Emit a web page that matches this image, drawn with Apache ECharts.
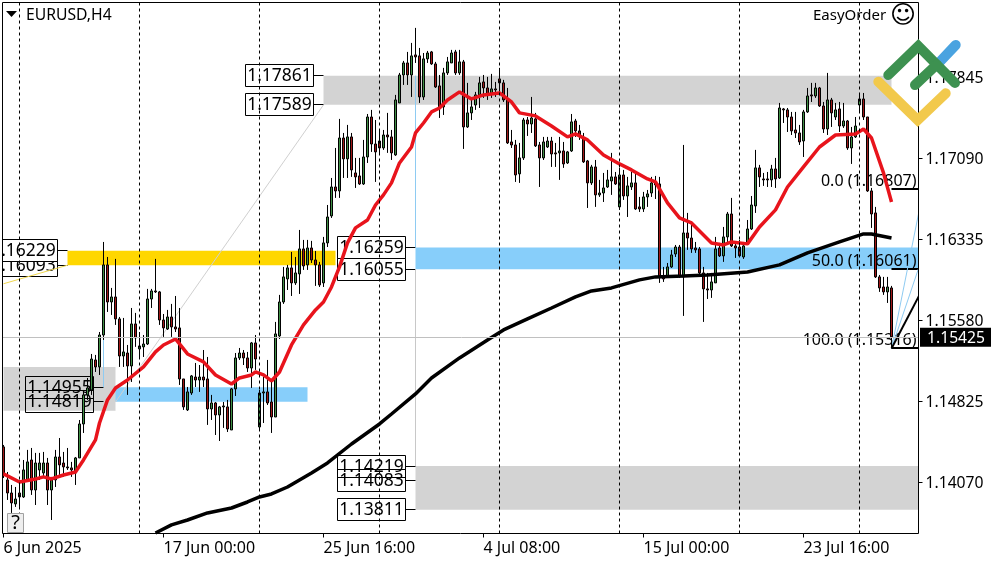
<!DOCTYPE html>
<html>
<head>
<meta charset="utf-8">
<style>
	html, body { margin: 0; padding: 0; background: #fff; }
	#chart { width: 1000px; height: 562px; }
</style>
<script src="https://cdn.jsdelivr.net/npm/echarts@6/dist/echarts.min.js"></script>
</head>
<body>
<div id="chart"></div>
<script>
const tickLabels = ["6 Jun 2025", "17 Jun 00:00", "25 Jun 16:00", "4 Jul 08:00", "15 Jul 00:00", "23 Jul 16:00"];
const priceTicks = [1.1407, 1.14825, 1.1558, 1.16335, 1.1709, 1.17845];
const separators = [4, 34, 64, 94, 124, 154, 184, 214];
const lastPrice = 1.15425;

const opens = [
	1.14398,1.1409,1.13968,1.13866,1.13968,1.13931,1.1409,1.14276,1.13996,1.14183,
	1.14155,1.14248,1.13996,1.1409,1.14304,1.14248,1.14211,1.14202,1.14155,1.14295,
	1.14612,1.14883,1.14929,1.15209,1.15144,1.15442,1.16096,1.1575,1.15797,1.15592,
	1.15246,1.15274,1.15153,1.15545,1.15312,1.15331,1.15358,1.15778,1.15853,1.15844,
	1.15582,1.15498,1.1561,1.15517,1.15508,1.15032,1.14743,1.14901,1.1505,1.15022,
	1.1505,1.15032,1.14752,1.14808,1.14696,1.14771,1.14771,1.14556,1.14939,1.15228,
	1.15274,1.15228,1.15134,1.15368,1.14584,1.14901,1.14911,1.14817,1.14677,1.15433,
	1.1575,1.15965,1.16068,1.15928,1.16012,1.16245,1.16096,1.16254,1.16142,1.16096,
	1.15928,1.16301,1.16553,1.16823,1.16786,1.1728,1.17085,1.1729,1.16954,1.16926,
	1.16851,1.17103,1.17476,1.17224,1.17252,1.17187,1.17308,1.1729,1.17122,1.17607,
	1.17868,1.1798,1.17868,1.18055,1.18046,1.17663,1.18018,1.18083,1.17971,1.17766,
	1.1757,1.17887,1.1798,1.18083,1.17887,1.1799,1.17383,1.17514,1.17588,1.17682,
	1.17803,1.17747,1.17691,1.17738,1.17831,1.17794,1.17635,1.17243,1.17215,1.16945,
	1.17094,1.17448,1.17411,1.17458,1.17215,1.17094,1.17196,1.17252,1.17141,1.17141,
	1.17159,1.17047,1.17159,1.17439,1.17346,1.17271,1.17066,1.16861,1.1701,1.16749,
	1.16767,1.16823,1.16879,1.16917,1.16637,1.16935,1.16739,1.16823,1.16861,1.16637,
	1.16618,1.1673,1.16767,1.1687,1.16851,1.15984,1.15984,1.16077,1.16198,1.16263,
	1.15984,1.16394,1.16347,1.16254,1.16245,1.16021,1.15872,1.15862,1.15928,1.16254,
	1.1618,1.16357,1.16571,1.16273,1.16263,1.1617,1.16292,1.16431,1.16646,1.17001,
	1.16898,1.16898,1.16889,1.16991,1.16907,1.17551,1.17542,1.17476,1.17355,1.17327,
	1.17252,1.17523,1.17682,1.17672,1.17747,1.17579,1.17364,1.17635,1.17476,1.17551,
	1.17392,1.17439,1.17187,1.1729,1.17588,1.17644,1.17476,1.16786,1.16581,1.15984,
	1.1589,1.15844,1.15881
];
const closes = [
	1.14136,1.13968,1.13875,1.13912,1.13931,1.14183,1.14258,1.13996,1.14248,1.14248,
	1.14248,1.13996,1.1409,1.14304,1.1423,1.14211,1.14202,1.14183,1.14295,1.14612,
	1.14883,1.14948,1.15218,1.15144,1.15442,1.16096,1.1575,1.15797,1.15592,1.15246,
	1.15284,1.15153,1.15545,1.15415,1.1534,1.15358,1.15778,1.15853,1.15844,1.15582,
	1.15508,1.1561,1.15517,1.15498,1.15032,1.14771,1.14911,1.1506,1.15022,1.1505,
	1.15022,1.14752,1.14808,1.14696,1.14771,1.1478,1.14565,1.14939,1.15228,1.15274,
	1.15228,1.15134,1.15368,1.15218,1.14901,1.14911,1.14808,1.14677,1.15452,1.1575,
	1.15984,1.16068,1.15928,1.16021,1.16245,1.16086,1.16254,1.16142,1.16096,1.15909,
	1.16301,1.16543,1.16823,1.16786,1.1728,1.17085,1.1729,1.16982,1.16917,1.16851,
	1.17103,1.17476,1.17224,1.1715,1.17187,1.17308,1.1729,1.17141,1.17635,1.17868,
	1.1798,1.17868,1.18046,1.18036,1.17663,1.18018,1.18073,1.17971,1.17756,1.1756,
	1.17887,1.1799,1.18073,1.17887,1.1799,1.17383,1.17514,1.1757,1.17682,1.17794,
	1.17747,1.17691,1.17738,1.17728,1.17794,1.17635,1.17234,1.17215,1.16935,1.17094,
	1.17448,1.17411,1.17467,1.17206,1.17094,1.17243,1.17252,1.17131,1.17131,1.17159,
	1.17038,1.1715,1.1743,1.17346,1.17308,1.17057,1.16861,1.1701,1.16749,1.16767,
	1.16814,1.16889,1.16917,1.16851,1.16935,1.16739,1.16833,1.16861,1.16618,1.16618,
	1.1673,1.16758,1.16861,1.16842,1.15984,1.15965,1.16077,1.16189,1.16263,1.15993,
	1.16394,1.16347,1.16245,1.16236,1.16021,1.15872,1.15862,1.15937,1.16245,1.1618,
	1.16357,1.16571,1.16273,1.16254,1.1618,1.16273,1.16431,1.16655,1.17001,1.16917,
	1.16889,1.16889,1.16991,1.16898,1.1756,1.17542,1.17476,1.17346,1.17327,1.17243,
	1.17523,1.17672,1.17672,1.17747,1.17579,1.17364,1.17635,1.17514,1.17542,1.17392,
	1.17439,1.17187,1.1729,1.17392,1.17644,1.17476,1.16786,1.16571,1.15984,1.15881,
	1.15844,1.1589,1.15425
];
const highs = [
	1.14416,1.14164,1.14043,1.14024,1.1409,1.14276,1.1437,1.14388,1.14342,1.14342,
	1.14351,1.14295,1.14118,1.1437,1.14481,1.14351,1.14388,1.14258,1.14304,1.14649,
	1.14929,1.15041,1.15265,1.15256,1.1547,1.1631,1.1617,1.15881,1.16152,1.1561,
	1.15601,1.15349,1.15694,1.15648,1.1547,1.15442,1.15872,1.15872,1.16152,1.15853,
	1.15638,1.15676,1.15732,1.15806,1.15694,1.15032,1.14957,1.15069,1.15181,1.15162,
	1.15302,1.15237,1.14883,1.14817,1.1478,1.14817,1.14836,1.14948,1.15274,1.15321,
	1.15302,1.15284,1.15377,1.15442,1.14929,1.1505,1.15209,1.15022,1.15564,1.15816,
	1.16077,1.16096,1.16217,1.1617,1.16422,1.16329,1.16329,1.1632,1.16226,1.16124,
	1.16357,1.16655,1.16907,1.17187,1.17458,1.17327,1.17402,1.17327,1.17094,1.17094,
	1.17262,1.17504,1.17542,1.17448,1.17355,1.17355,1.17514,1.17355,1.17682,1.17887,
	1.17999,1.18083,1.18167,1.18307,1.1812,1.18073,1.18092,1.18092,1.1799,1.17868,
	1.17934,1.18036,1.18102,1.18102,1.18102,1.18008,1.17794,1.17635,1.1771,1.1785,
	1.17868,1.1785,1.17878,1.17803,1.17934,1.17822,1.17747,1.17355,1.17262,1.17234,
	1.17467,1.17476,1.17663,1.17514,1.17243,1.1729,1.1729,1.1729,1.17234,1.1729,
	1.17243,1.17159,1.17504,1.17458,1.17402,1.17327,1.17075,1.17029,1.17075,1.16889,
	1.16954,1.16982,1.17141,1.16963,1.17001,1.16982,1.16917,1.16963,1.16954,1.1673,
	1.16777,1.16795,1.16917,1.16926,1.16917,1.16077,1.16114,1.16236,1.16282,1.16282,
	1.17215,1.16581,1.16469,1.1631,1.16263,1.16077,1.16021,1.16021,1.16357,1.16301,
	1.1645,1.1659,1.16721,1.1631,1.16329,1.1631,1.16515,1.16739,1.17169,1.17029,
	1.16954,1.16963,1.17029,1.17094,1.17607,1.1756,1.1756,1.17523,1.17523,1.17402,
	1.17542,1.17747,1.17794,1.17794,1.17756,1.17616,1.17887,1.17654,1.17607,1.17616,
	1.17607,1.17448,1.17383,1.17476,1.177,1.177,1.17476,1.16814,1.16637,1.16002,
	1.15984,1.15984,1.159
];
const lows = [
	1.14108,1.13903,1.13782,1.13838,1.13838,1.13922,1.14071,1.1395,1.13856,1.1409,
	1.14118,1.13856,1.13716,1.14024,1.14136,1.14118,1.14183,1.14118,1.14043,1.14295,
	1.14528,1.14836,1.14883,1.15097,1.15069,1.15396,1.15657,1.15629,1.15536,1.15144,
	1.15144,1.14883,1.15004,1.15331,1.15228,1.15237,1.15349,1.15694,1.15834,1.15536,
	1.15424,1.15489,1.15424,1.1547,1.14976,1.14743,1.14733,1.14883,1.14957,1.14911,
	1.14957,1.14603,1.14649,1.14509,1.14453,1.14575,1.14537,1.14556,1.14873,1.15209,
	1.15162,1.15097,1.14948,1.15116,1.14556,1.14621,1.14789,1.14528,1.14677,1.15405,
	1.15732,1.15862,1.15806,1.15909,1.15825,1.16049,1.16049,1.16114,1.159,1.1589,
	1.1589,1.16263,1.16534,1.16721,1.16721,1.16907,1.16907,1.16917,1.16814,1.16842,
	1.16842,1.17047,1.1715,1.1687,1.17122,1.17169,1.17141,1.17075,1.17113,1.17607,
	1.17775,1.17775,1.17663,1.1798,1.17607,1.17635,1.1798,1.17962,1.17747,1.17467,
	1.17495,1.17868,1.1798,1.17868,1.17868,1.17178,1.17374,1.17448,1.17542,1.1756,
	1.17654,1.17635,1.17654,1.17663,1.1771,1.17616,1.17224,1.17187,1.1687,1.16861,
	1.17075,1.17299,1.17327,1.17196,1.16823,1.17075,1.17187,1.1701,1.1701,1.16889,
	1.17001,1.17038,1.1715,1.1729,1.17262,1.17047,1.16627,1.16842,1.16637,1.1673,
	1.16683,1.16814,1.16749,1.16842,1.16609,1.16702,1.16543,1.16795,1.16609,1.1659,
	1.1659,1.16637,1.1673,1.16711,1.15928,1.15937,1.15974,1.16068,1.1617,1.15974,
	1.1562,1.16236,1.16208,1.16208,1.15984,1.15564,1.15778,1.15788,1.15928,1.1617,
	1.16124,1.1631,1.16263,1.16161,1.1617,1.16152,1.16282,1.16422,1.16581,1.16823,
	1.16833,1.16823,1.16823,1.16814,1.16898,1.1742,1.17336,1.17308,1.1728,1.17215,
	1.17103,1.17514,1.17616,1.17654,1.1757,1.17327,1.17308,1.17383,1.17448,1.17336,
	1.17374,1.17169,1.17038,1.1728,1.17514,1.17448,1.16777,1.16441,1.15974,1.15844,
	1.15816,1.15741,1.15316
];

// moving averages, [candle index, price]
const maFast = [
	[0,1.14146],[4,1.14071],[8,1.14099],[10,1.14118],[12,1.14099],[15,1.14136],[18,1.14164],[20,1.14276],
	[23,1.14463],[24,1.14621],[26,1.14836],[28,1.14948],[31,1.15022],[35,1.15144],[38,1.15284],[40,1.15349],
	[43,1.15405],[46,1.15265],[50,1.15191],[53,1.15069],[57,1.14985],[59,1.15041],[62,1.15069],[63,1.15097],
	[65,1.15069],[67,1.15013],[69,1.15097],[72,1.15349],[75,1.15536],[78,1.15676],[80,1.1575],[82,1.1589],
	[84,1.16077],[86,1.16301],[88,1.16441],[91,1.16515],[93,1.16655],[95,1.16749],[97,1.16861],[99,1.17047],
	[102,1.17196],[103,1.17327],[105,1.1742],[107,1.17523],[109,1.1756],[111,1.17635],[114,1.1771],[117,1.17644],
	[120,1.17682],[124,1.177],[127,1.17616],[129,1.17514],[133,1.17486],[137,1.17392],[141,1.1729],[143,1.17318],
	[146,1.17262],[150,1.17122],[154,1.17038],[157,1.16982],[161,1.16898],[163,1.1687],[166,1.16674],[169,1.16534],
	[172,1.16487],[177,1.16301],[180,1.16282],[182,1.1631],[186,1.16292],[189,1.1645],[193,1.16609],[196,1.16823],
	[200,1.1701],[204,1.17196],[208,1.17308],[213,1.17318],[215,1.17364],[217,1.1728],[220,1.16954],[222,1.16683]
];
const maSlow = [
	[38,1.13595],[42,1.1367],[46,1.13716],[51,1.13782],[57,1.13828],[61,1.13884],[64,1.13931],[67,1.13959],
	[71,1.14024],[74,1.1409],[77,1.14155],[79,1.14202],[81,1.14248],[87,1.14425],[94,1.14612],[97,1.14705],
	[103,1.14892],[107,1.15041],[114,1.15228],[121,1.15396],[125,1.15489],[131,1.15592],[137,1.15694],[143,1.15797],
	[147,1.15853],[152,1.15881],[159,1.15956],[163,1.15984],[170,1.15993],[176,1.16002],[186,1.1603],[194,1.16096],
	[201,1.16208],[209,1.1631],[215,1.16385],[217,1.16385],[222,1.16347]
];

// zones: first candle, last candle, top price, bottom price
const goldZones = [[16, 83, 1.16229, 1.16093]];
const blueZones = [[25, 76, 1.14955, 1.14819], [103, 229, 1.16259, 1.16055]];
const greyZones = [[0, 28, 1.15143, 1.14736], [80, 222, 1.17861, 1.17589], [103, 229, 1.14219, 1.13811]];

// price tags: candle the leader runs to, price
const openTags = [[80,1.17861],[80,1.17589],[103,1.16259],[103,1.16055],[103,1.14219],[103,1.14083],[103,1.13811],[25,1.14955],[25,1.14819]];
const whiteTags = [[16,1.16093],[16,1.16229]];

const fiboLevels = ["0.0", "50.0", "100.0"];
const fiboPrices = [1.16807, 1.16061, 1.15316];

const greyTrend = [[80,1.17589],[28,1.14817]];
const yellowTrend = [[16,1.16093],[0,1.15920]];
const blueStemTop = [[103,1.17861],[103,1.16259]];
const blueStemLeft = [[25,1.15396],[25,1.14955]];
const greyStem = [[103,1.16055],[103,1.14219]];
const fanHigh = [[222,1.15316],[229,1.16618]];
const fanMid = [[222,1.15316],[229,1.1609]];
const fanLine = [[222,1.15316],[229,1.15816]];

const FONT = '"Noto Sans", sans-serif';

const categories = [];
for (let i = 0; i < 230; i++) {
	categories.push(i % 40 === 0 ? tickLabels[i / 40] || "" : "");
}

const candles = opens.map((o, i) => [o, closes[i], lows[i], highs[i]]);

function thinLine(data, color, width, z) {
	return {
		type: "line",
		data: data,
		showSymbol: false,
		silent: true,
		z: z || 2,
		lineStyle: { color: color, width: width || 1 },
	};
}

function zoneSeries(data, color) {
	return {
		type: "custom",
		data: data,
		z: 1,
		silent: true,
		clip: true,
		encode: { x: [0, 1], y: [2, 3] },
		renderItem(params, api) {
			const a = api.coord([api.value(0), api.value(2)]);
			const b = api.coord([api.value(1), api.value(3)]);
			return {
				type: "rect",
				shape: { x: a[0], y: a[1], width: b[0] - a[0], height: b[1] - a[1] },
				style: { fill: color },
			};
		},
	};
}

function tagSeries(data, fill) {
	return {
		type: "custom",
		data: data,
		z: 2,
		silent: true,
		clip: true,
		encode: { x: 0, y: 1 },
		renderItem(params, api) {
			const p = api.coord([api.value(0), api.value(1)]);
			const y = Math.round(p[1] - 0.5) + 0.5;
			const right = p[0] - 10;
			return {
				type: "group",
				children: [
					{
						type: "line",
						shape: { x1: right, y1: y, x2: p[0], y2: y },
						style: { stroke: "#000", lineWidth: 1 },
					},
					{
						type: "rect",
						shape: { x: right - 68, y: y - 11, width: 68, height: 22 },
						style: { fill: fill, stroke: "#000", lineWidth: 1 },
					},
					{
						type: "text",
						style: {
							text: api.value(1).toFixed(5),
							x: right - 34,
							y: y + 1,
							align: "center",
							verticalAlign: "middle",
							fill: "#000",
							font: "17.5px " + FONT,
						},
					},
				],
			};
		},
	};
}

const fiboData = fiboPrices.map((p, i) => [222, p, i]);

function polyline(points, color, width) {
	return {
		type: "polyline",
		z: 30,
		silent: true,
		shape: { points: points },
		style: { stroke: color, lineWidth: width, lineCap: "round", lineJoin: "miter", fill: "none" },
	};
}

const option = {
	animation: false,
	backgroundColor: "#fff",
	grid: { left: 1.5, top: 2.5, width: 920, height: 531, containLabel: false },
	xAxis: {
		type: "category",
		data: categories,
		boundaryGap: true,
		axisLine: { show: false },
		axisTick: { show: true, alignWithLabel: true, interval: 39, length: 4, lineStyle: { color: "#000" } },
		axisLabel: { show: true, interval: 39, align: "left", margin: 7, color: "#000", fontFamily: FONT, fontSize: 16 },
		splitLine: { show: false },
	},
	yAxis: {
		type: "value",
		position: "right",
		offset: -3,
		z: 10,
		min: 1.1359,
		max: 1.18544,
		axisLine: { show: false },
		axisTick: { show: true, length: 4, lineStyle: { color: "#000" }, customValues: priceTicks },
		axisLabel: { show: true, margin: 7, verticalAlign: "top", lineHeight: 2, color: "#000", fontFamily: FONT, fontSize: 15.7, customValues: priceTicks, formatter: (v) => v.toFixed(5) },
		splitLine: { show: false },
	},
	series: [
		zoneSeries(goldZones, "#ffd700"),
		zoneSeries(blueZones, "#87cefa"),
		zoneSeries(greyZones, "#d3d3d3"),
		tagSeries(openTags, "none"),
		tagSeries(whiteTags, "#fff"),
		thinLine(greyTrend, "#d0d0d0"),
		thinLine(yellowTrend, "#f0d850"),
		thinLine(blueStemTop, "#8ecbf2"),
		thinLine(blueStemLeft, "#8ecbf2"),
		thinLine(greyStem, "#c8c8c8"),
		{
			type: "line",
			data: [],
			z: 2,
			silent: true,
			markLine: {
				silent: true,
				animation: false,
				symbol: "none",
				label: { show: false },
				lineStyle: { color: "#000", type: [3, 3], width: 1 },
				data: separators.map((s) => ({ xAxis: s })),
			},
		},
		{
			type: "line",
			data: [],
			z: 2,
			silent: true,
			markLine: {
				silent: true,
				animation: false,
				symbol: "none",
				precision: 5,
				label: { show: false },
				lineStyle: { color: "#c0c0c0", type: "solid", width: 1 },
				data: [{ yAxis: lastPrice }],
			},
		},
		{
			type: "custom",
			data: fiboData,
			z: 2,
			silent: true,
			clip: true,
			encode: { x: 0, y: 1 },
			renderItem(params, api) {
				const p = api.coord([api.value(0), api.value(1)]);
				const y = Math.round(p[1]);
				const level = fiboLevels[api.value(2)];
				return {
					type: "group",
					children: [
						{
							type: "line",
							shape: { x1: p[0], y1: y, x2: p[0] + 30, y2: y },
							style: { stroke: "#000", lineWidth: 2 },
						},
						{
							type: "text",
							style: {
								text: level + " (" + api.value(1).toFixed(5) + ")",
								x: p[0] + 25,
								y: y - 8,
								align: "right",
								verticalAlign: "middle",
								fill: "#000",
								font: "16px " + FONT,
							},
						},
					],
				};
			},
		},
		thinLine(fanHigh, "#8ecbf2"),
		thinLine(fanMid, "#8ecbf2"),
		thinLine(fanLine, "#000", 2),
		{
			type: "candlestick",
			data: candles,
			z: 3,
			silent: true,
			barWidth: 2,
			itemStyle: {
				color: "#3f8f45",
				color0: "#a01818",
				borderColor: "#000",
				borderColor0: "#000",
				borderWidth: 1,
			},
		},
		thinLine(maSlow, "#000", 3.5, 4),
		thinLine(maFast, "#e8141c", 3.5, 4),
		{
			type: "custom",
			data: [[222, lastPrice]],
			z: 12,
			silent: true,
			clip: false,
			encode: { x: 0, y: 1 },
			renderItem(params, api) {
				const p = api.coord([api.value(0), api.value(1)]);
				return {
					type: "group",
					children: [
						{
							type: "rect",
							shape: { x: 920, y: p[1] - 9, width: 71, height: 19 },
							style: { fill: "#000" },
						},
						{
							type: "text",
							style: {
								text: api.value(1).toFixed(5),
								x: 927,
								y: p[1] + 1.5,
								align: "left",
								verticalAlign: "middle",
								fill: "#fff",
								font: "15.7px " + FONT,
							},
						},
					],
				};
			},
		},
	],
	graphic: [
		// mask what runs past the frame
		{ type: "rect", z: 6, silent: true, shape: { x: 919, y: 0, width: 3, height: 534 }, style: { fill: "#fff" } },
		{ type: "rect", z: 6, silent: true, shape: { x: 0, y: 0, width: 2, height: 562 }, style: { fill: "#fff" } },
		{ type: "rect", z: 7, silent: true, shape: { x: 2.5, y: 2.5, width: 916, height: 531 }, style: { fill: "none", stroke: "#000", lineWidth: 1 } },
		{ type: "polygon", z: 8, silent: true, shape: { points: [[6, 11], [17, 11], [11.5, 17]] }, style: { fill: "#000" } },
		{ type: "text", z: 8, silent: true, style: { text: "EURUSD,H4", x: 26, y: 16, verticalAlign: "middle", fill: "#000", font: "15.7px " + FONT } },
		{ type: "text", z: 8, silent: true, style: { text: "EasyOrder", x: 813, y: 16, verticalAlign: "middle", fill: "#000", font: "15px " + FONT } },
		{ type: "text", z: 8, silent: true, style: { text: "\u263A", x: 903, y: 16, align: "center", verticalAlign: "middle", fill: "#000", font: '25px "DejaVu Sans"' } },
		{ type: "rect", z: 8, silent: true, shape: { x: 7.5, y: 513.5, width: 16, height: 19 }, style: { fill: "#eeeeee", stroke: "#a0a0a0", lineWidth: 1 } },
		{ type: "text", z: 8, silent: true, style: { text: "?", x: 15.5, y: 523, align: "center", verticalAlign: "middle", fill: "#000", font: "20px " + FONT } },
		// logo
		polyline([[940, 61.7], [955.7, 45]], "#4aa3e0", 10),
		polyline([[878.3, 81.7], [917.7, 120], [945.7, 93.3]], "#f2c94c", 10),
		polyline([[888.3, 75], [918.3, 46], [955, 83]], "#3d9150", 10),
		polyline([[915, 85], [936.7, 64.7]], "#3d9150", 10),
	],
};

const chart = echarts.init(document.getElementById("chart"), null, { renderer: "canvas" });
chart.setOption(option);
</script>
</body>
</html>
